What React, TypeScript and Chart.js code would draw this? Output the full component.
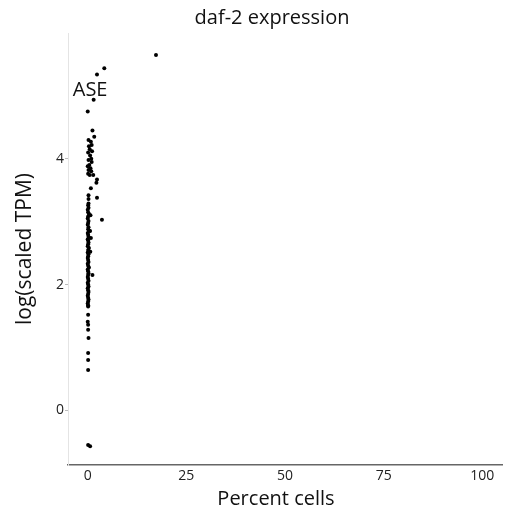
import React, { useEffect, useRef } from "react";
import { Chart, registerables } from "chart.js";

Chart.register(...registerables);

const chartTitle = "daf-2 expression";
const xTitle = "Percent cells";
const yTitle = "log(scaled TPM)";
const xTicks = [0, 25, 50, 75, 100];
const yTicks = [0, 2, 4];

const pctCells = [
  17.3, 4.2, 2.35, 1.5, 0.0, 1.2, 1.65,
  0.2, 0.8, 1.0, 0.3, 0.5, 1.1, 0.1, 0.6, 0.9, 0.2, 1.0, 0.4, 0.0, 0.7, 0.2, 0.9, 0.1, 0.5,
  1.4, 2.35, 0.8, 0.2, 0.2, 0.2, 2.35, 3.6, 2.2,
  0.1, 0.2, 0.0, 0.1, 0.3, 0.1, 0.0, 0.2, 0.1, 0.0, 0.2, 0.1, 0.3, 0.0, 0.1, 0.2, 0.0, 0.1,
  0.2, 0.1, 0.0, 0.3, 0.1, 0.0, 0.2, 0.1, 0.0, 0.1, 0.2, 0.0, 0.1, 0.3, 0.0, 0.1, 0.2, 0.1,
  0.0, 0.1, 0.2, 0.0, 0.1, 0.2, 0.0, 0.1, 0.2, 0.1, 0.0, 0.1, 0.2, 0.1, 0.0, 0.1,
  0.8, 0.65, 1.2, 0.6, 0.7,
  0.1, 0.1, 0.0, 0.1, 0.1, 0.2, 0.1, 0.1, 0.1,
  0.1, 0.6,
];
const logTPM = [
  5.65, 5.44, 5.34, 4.94, 4.75, 4.45, 4.35,
  4.3, 4.27, 4.22, 4.2, 4.15, 4.12, 4.1, 4.05, 4.0, 3.98, 3.95, 3.9, 3.88, 3.85, 3.82, 3.8, 3.76, 3.74,
  3.74, 3.67, 3.53, 3.42, 3.36, 3.29, 3.38, 3.03, 3.62,
  3.26, 3.22, 3.19, 3.15, 3.12, 3.08, 3.05, 3.01, 2.98, 2.95, 2.91, 2.88, 2.85, 2.82, 2.79, 2.76, 2.72, 2.7,
  2.67, 2.64, 2.61, 2.58, 2.55, 2.51, 2.48, 2.45, 2.42, 2.39, 2.36, 2.33, 2.3, 2.27, 2.24, 2.21, 2.18, 2.15,
  2.12, 2.09, 2.06, 2.03, 2.0, 1.97, 1.94, 1.91, 1.88, 1.85, 1.82, 1.79, 1.76, 1.73, 1.7, 1.67,
  2.74, 2.52, 2.15, 2.85, 3.1,
  1.65, 1.52, 1.41, 1.36, 1.28, 1.15, 0.91, 0.8, 0.64,
  -0.55, -0.57,
];

const labelText = "ASE";
const labelPct = 0.6;
const labelTPM = 5.09;

const FONT = "'Open Sans', 'DejaVu Sans', sans-serif";

export default function App() {
  const ref = useRef<HTMLCanvasElement | null>(null);
  useEffect(() => {
    if (!ref.current) return;
    const points = pctCells.map((x, i) => ({ x, y: logTPM[i] }));
    const textPlugin = {
      id: "texts",
      afterDatasetsDraw(chart: any) {
        const { ctx, scales } = chart;
        const px = scales.x.getPixelForValue(labelPct);
        const py = scales.y.getPixelForValue(labelTPM);
        ctx.save();
        ctx.fillStyle = "#111";
        ctx.textAlign = "center";
        ctx.textBaseline = "middle";
        ctx.font = `20px ${FONT}`;
        ctx.fillText(labelText, px, py);
        ctx.textBaseline = "alphabetic";
        ctx.font = `20px ${FONT}`;
        ctx.fillText(chartTitle, 272, 24);
        ctx.font = `20px ${FONT}`;
        ctx.fillText(xTitle, 276, 505);
        ctx.restore();
      },
    };
    const chart = new Chart(ref.current, {
      type: "scatter",
      data: {
        datasets: [
          {
            data: points,
            backgroundColor: "#000",
            borderColor: "#000",
            pointRadius: 2,
            pointBorderWidth: 0,
          },
        ],
      },
      options: {
        responsive: false,
        animation: false,
        layout: { padding: { left: 0, right: 4, top: 33, bottom: 0 } },
        plugins: {
          legend: { display: false },
          tooltip: { enabled: false },
          title: { display: false },
        },
        scales: {
          x: {
            type: "linear",
            min: -5,
            max: 105,
            afterBuildTicks: (s: any) => {
              s.ticks = xTicks.map((v) => ({ value: v }));
            },
            afterFit: (s: any) => {
              s.height = 47;
            },
            grid: { display: false, drawTicks: false },
            border: { display: true, color: "#666", width: 1.5 },
            ticks: {
              color: "#222",
              font: { family: FONT, size: 14 },
              padding: 3,
              maxRotation: 0,
            },
          },
          y: {
            type: "linear",
            min: -0.87,
            max: 6.0,
            afterBuildTicks: (s: any) => {
              s.ticks = yTicks.map((v) => ({ value: v }));
            },
            afterFit: (s: any) => {
              s.width = 68;
            },
            grid: {
              drawOnChartArea: false,
              drawTicks: true,
              tickLength: 3,
              color: "#bbb",
            },
            border: { display: true, color: "#e4e4e4", width: 1 },
            ticks: {
              color: "#222",
              font: { family: FONT, size: 14 },
              padding: 1,
            },
            title: {
              display: true,
              text: yTitle,
              color: "#111",
              font: { family: FONT, size: 21 },
              padding: { top: 12, bottom: 0 },
            },
          },
        },
      },
      plugins: [textPlugin],
    });
    return () => chart.destroy();
  }, []);
  return (
    <div style={{ position: "fixed", left: 0, top: 0, width: 506, height: 512, background: "#fff" }}>
      <canvas ref={ref} width={506} height={512} />
    </div>
  );
}
